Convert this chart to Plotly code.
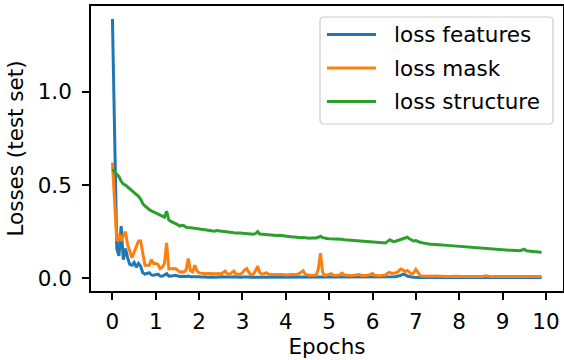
import plotly.graph_objects as go

# ---------------- data ----------------
epochs = [round(i * 0.05, 2) for i in range(199)]

loss_features = [
    1.39, 0.75, 0.16, 0.12, 0.28, 0.10, 0.16, 0.11, 0.075, 0.07,
    0.085, 0.06, 0.08, 0.065, 0.03, 0.022, 0.025, 0.03, 0.018, 0.016,
    0.02, 0.022, 0.012, 0.011, 0.018, 0.025, 0.012, 0.011, 0.014, 0.016,
    0.012, 0.01, 0.011, 0.009, 0.01, 0.012, 0.008, 0.009, 0.01, 0.007,
    0.008, 0.007, 0.008, 0.007, 0.006, 0.008, 0.007, 0.006, 0.007, 0.006,
    0.007, 0.008, 0.007, 0.006, 0.006, 0.007, 0.008, 0.006, 0.006, 0.006,
    0.007, 0.008, 0.009, 0.007, 0.006, 0.006, 0.007, 0.009, 0.007, 0.006,
    0.006, 0.006, 0.006, 0.005, 0.006, 0.005, 0.006, 0.005, 0.005, 0.005,
    0.005, 0.005, 0.006, 0.005, 0.005, 0.005, 0.006, 0.006, 0.007, 0.005,
    0.005, 0.005, 0.005, 0.005, 0.005, 0.006, 0.008, 0.006, 0.005, 0.005,
    0.005, 0.005, 0.005, 0.005, 0.005, 0.005, 0.006, 0.005, 0.005, 0.005,
    0.005, 0.005, 0.005, 0.005, 0.005, 0.005, 0.005, 0.005, 0.005, 0.005,
    0.006, 0.005, 0.005, 0.005, 0.005, 0.005, 0.005, 0.006, 0.007, 0.008,
    0.009, 0.01, 0.012, 0.016, 0.022, 0.02, 0.012, 0.008, 0.007, 0.006,
    0.007, 0.006, 0.005, 0.005, 0.005, 0.005, 0.005, 0.005, 0.005, 0.005,
    0.005, 0.005, 0.005, 0.005, 0.005, 0.005, 0.005, 0.005, 0.005, 0.005,
    0.005, 0.005, 0.005, 0.005, 0.005, 0.005, 0.005, 0.005, 0.005, 0.005,
    0.005, 0.005, 0.005, 0.005, 0.005, 0.005, 0.005, 0.005, 0.005, 0.005,
    0.005, 0.005, 0.005, 0.005, 0.005, 0.005, 0.005, 0.005, 0.005, 0.005,
    0.005, 0.005, 0.005, 0.005, 0.005, 0.005, 0.005, 0.005, 0.005,
]

loss_mask = [
    0.62, 0.42, 0.20, 0.24, 0.20, 0.23, 0.25, 0.18, 0.15, 0.11,
    0.14, 0.17, 0.20, 0.20, 0.14, 0.07, 0.07, 0.07, 0.10, 0.08,
    0.08, 0.075, 0.052, 0.06, 0.08, 0.19, 0.05, 0.052, 0.05, 0.052,
    0.045, 0.034, 0.035, 0.034, 0.045, 0.106, 0.04, 0.034, 0.07, 0.04,
    0.029, 0.027, 0.025, 0.025, 0.026, 0.024, 0.025, 0.024, 0.025, 0.026,
    0.022, 0.03, 0.039, 0.024, 0.022, 0.03, 0.039, 0.022, 0.02, 0.022,
    0.03, 0.045, 0.052, 0.03, 0.02, 0.022, 0.04, 0.065, 0.03, 0.022,
    0.025, 0.03, 0.022, 0.02, 0.02, 0.02, 0.022, 0.02, 0.02, 0.018,
    0.02, 0.018, 0.02, 0.02, 0.018, 0.02, 0.025, 0.035, 0.04, 0.022,
    0.018, 0.016, 0.016, 0.015, 0.016, 0.05, 0.135, 0.03, 0.016, 0.018,
    0.022, 0.025, 0.016, 0.015, 0.016, 0.02, 0.028, 0.018, 0.015, 0.016,
    0.014, 0.015, 0.016, 0.018, 0.02, 0.015, 0.014, 0.015, 0.016, 0.022,
    0.026, 0.016, 0.014, 0.014, 0.015, 0.016, 0.018, 0.028, 0.032, 0.026,
    0.028, 0.03, 0.038, 0.05, 0.046, 0.036, 0.042, 0.035, 0.02, 0.03,
    0.048, 0.03, 0.014, 0.012, 0.01, 0.011, 0.012, 0.01, 0.011, 0.012,
    0.011, 0.01, 0.01, 0.011, 0.01, 0.01, 0.011, 0.01, 0.01, 0.011,
    0.01, 0.01, 0.009, 0.01, 0.01, 0.009, 0.01, 0.01, 0.009, 0.01,
    0.01, 0.01, 0.014, 0.011, 0.01, 0.009, 0.01, 0.01, 0.009, 0.01,
    0.009, 0.01, 0.009, 0.009, 0.01, 0.009, 0.009, 0.01, 0.009, 0.009,
    0.01, 0.012, 0.01, 0.009, 0.009, 0.01, 0.009, 0.009, 0.01,
]

loss_structure = [
    0.585, 0.57, 0.56, 0.545, 0.52, 0.505, 0.50, 0.49, 0.477, 0.47,
    0.462, 0.452, 0.44, 0.425, 0.40, 0.388, 0.376, 0.368, 0.362, 0.356,
    0.35, 0.345, 0.339, 0.333, 0.328, 0.36, 0.313, 0.305, 0.30, 0.297,
    0.288, 0.28, 0.284, 0.282, 0.274, 0.272, 0.273, 0.27, 0.268, 0.265,
    0.262, 0.263, 0.262, 0.26, 0.262, 0.258, 0.255, 0.252, 0.256, 0.254,
    0.252, 0.25, 0.248, 0.247, 0.245, 0.246, 0.244, 0.243, 0.245, 0.243,
    0.242, 0.24, 0.238, 0.237, 0.238, 0.236, 0.24, 0.25, 0.237, 0.236,
    0.234, 0.233, 0.232, 0.231, 0.233, 0.232, 0.23, 0.231, 0.229, 0.228,
    0.225, 0.223, 0.222, 0.221, 0.222, 0.22, 0.219, 0.218, 0.219, 0.217,
    0.216, 0.215, 0.216, 0.215, 0.216, 0.22, 0.226, 0.218, 0.214, 0.213,
    0.212, 0.212, 0.211, 0.21, 0.209, 0.208, 0.209, 0.207, 0.206, 0.205,
    0.204, 0.204, 0.203, 0.202, 0.201, 0.20, 0.20, 0.199, 0.199, 0.198,
    0.197, 0.196, 0.196, 0.195, 0.193, 0.191, 0.19, 0.198, 0.207, 0.20,
    0.196, 0.20, 0.204, 0.207, 0.208, 0.214, 0.22, 0.212, 0.205, 0.20,
    0.202, 0.196, 0.193, 0.19, 0.187, 0.185, 0.184, 0.183, 0.183, 0.182,
    0.181, 0.18, 0.179, 0.178, 0.177, 0.176, 0.175, 0.173, 0.172, 0.171,
    0.17, 0.169, 0.168, 0.167, 0.167, 0.166, 0.165, 0.166, 0.165, 0.164,
    0.163, 0.161, 0.16, 0.158, 0.157, 0.156, 0.155, 0.155, 0.154, 0.153,
    0.153, 0.152, 0.152, 0.151, 0.151, 0.15, 0.149, 0.149, 0.148, 0.152,
    0.156, 0.148, 0.146, 0.145, 0.144, 0.143, 0.142, 0.141, 0.139,
]

series_names = ["loss features", "loss mask", "loss structure"]
series_colors = ["#1f77b4", "#ff7f0e", "#2ca02c"]
x_ticks = list(range(0, 11))
y_ticks = [0.0, 0.5, 1.0]
y_tick_labels = ["0.0", "0.5", "1.0"]

# ---------------- figure ----------------
W, H = 564, 360
L, R, T, B = 91, 1, 6, 69
PW, PH = W - L - R, H - T - B
FONT = "DejaVu Sans"
FS = 21.5

fig = go.Figure()
for name, vals, col in zip(series_names, [loss_features, loss_mask, loss_structure], series_colors):
    fig.add_trace(go.Scatter(x=epochs, y=vals, mode="lines", name=name,
                             line=dict(color=col, width=3), showlegend=False))

def px_x(p):
    return (p - L) / PW

def px_y(p):
    return (H - B - p) / PH

# custom matplotlib-style legend
bx0, bx1, by0, by1, rad = 320, 553, 17, 124, 4
rx, ry = rad / PW, rad / PH
X0, X1, Y0, Y1 = px_x(bx0), px_x(bx1), px_y(by1), px_y(by0)
path = (f"M {X0+rx},{Y0} L {X1-rx},{Y0} Q {X1},{Y0} {X1},{Y0+ry} "
        f"L {X1},{Y1-ry} Q {X1},{Y1} {X1-rx},{Y1} L {X0+rx},{Y1} "
        f"Q {X0},{Y1} {X0},{Y1-ry} L {X0},{Y0+ry} Q {X0},{Y0} {X0+rx},{Y0} Z")
shapes = [dict(type="path", path=path, xref="paper", yref="paper",
               fillcolor="rgba(255,255,255,0.8)", line=dict(color="#cccccc", width=1.2), layer="above")]
annotations = []
row_y = [34.5, 68, 101.5]
for name, col, ry_px in zip(series_names, series_colors, row_y):
    shapes.append(dict(type="line", xref="paper", yref="paper",
                       x0=px_x(327), x1=px_x(376), y0=px_y(ry_px), y1=px_y(ry_px),
                       line=dict(color=col, width=3), layer="above"))
    annotations.append(dict(text=name, xref="paper", yref="paper", x=px_x(392), y=px_y(ry_px),
                            xanchor="left", yanchor="middle", showarrow=False,
                            font=dict(family=FONT, size=FS, color="black")))

axis_common = dict(showline=True, linecolor="black", linewidth=1.6, mirror=True,
                   ticks="outside", ticklen=7, tickwidth=1.5, tickcolor="black",
                   showgrid=False, zeroline=False, automargin=False,
                   tickfont=dict(family=FONT, size=FS, color="black"))

fig.update_layout(
    width=W, height=H, margin=dict(l=L, r=R, t=T, b=B, autoexpand=False),
    paper_bgcolor="white", plot_bgcolor="white",
    shapes=shapes, annotations=annotations,
    xaxis=dict(range=[-0.495, 10.395], tickvals=x_ticks, ticklabelstandoff=3,
               title=dict(text="Epochs", font=dict(family=FONT, size=FS, color="black"), standoff=6),
               **axis_common),
    yaxis=dict(range=[-0.068, 1.46], tickvals=y_ticks, ticktext=y_tick_labels, ticklabelstandoff=6,
               title=dict(text="Losses (test set)", font=dict(family=FONT, size=FS, color="black"), standoff=8),
               **axis_common),
)

fig.write_html("out.html", config={"displayModeBar": False},
               post_script="document.body.style.margin='0';document.body.style.overflow='hidden';")
